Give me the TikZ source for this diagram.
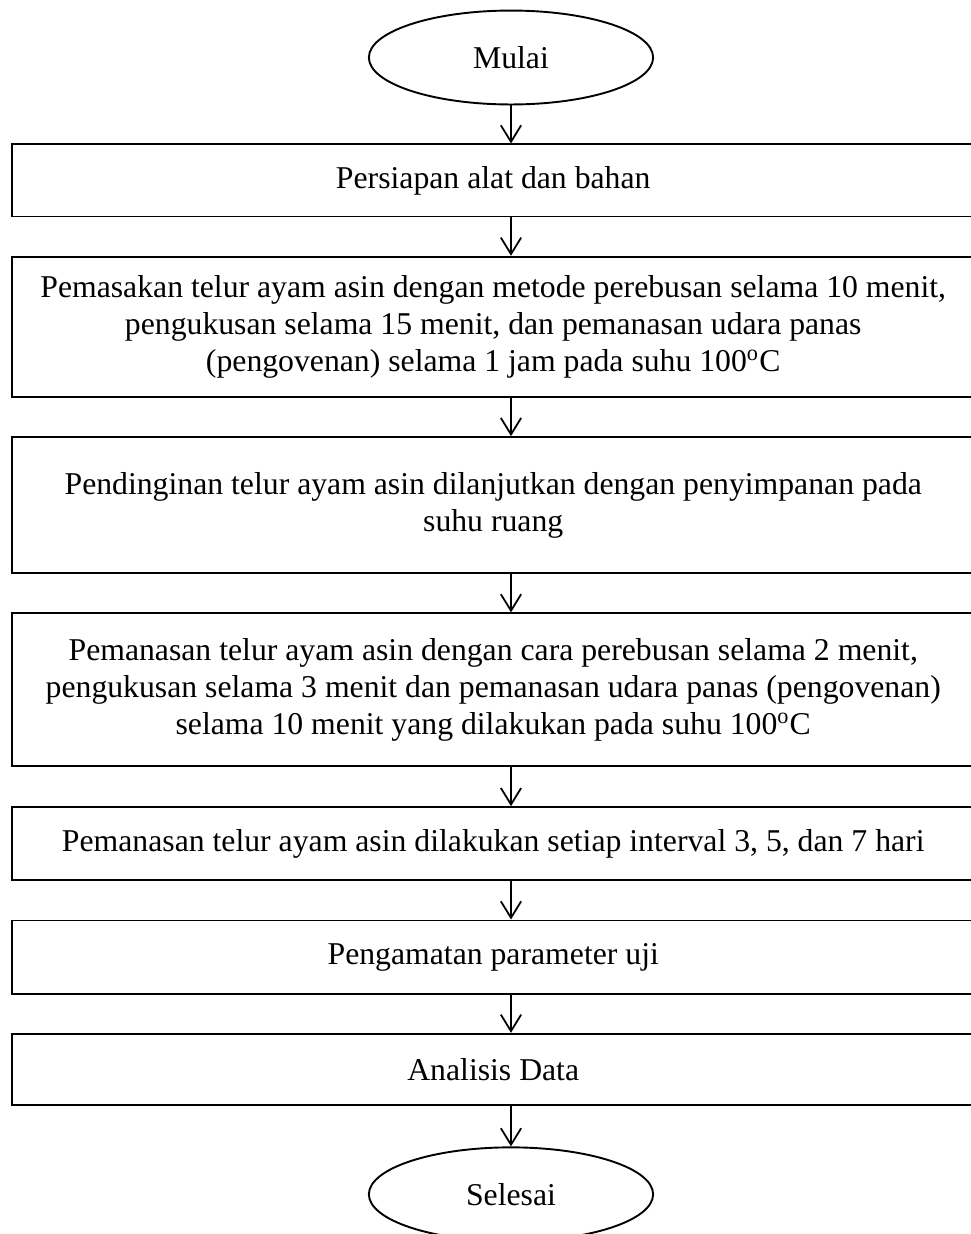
\documentclass[tikz,border=0pt]{standalone}
\usepackage{fontspec}
\setmainfont{Liberation Serif}
\usepackage{tikz}
\usetikzlibrary{shapes.geometric, arrows.meta, positioning}
\tikzset{
  terminal/.style={ellipse, draw=black, fill=white, minimum width=112pt,
    minimum height=37pt, font=\fontsize{12.5}{14.6}\selectfont, line width=0.75pt},
  process/.style={rectangle, draw=black, fill=white, minimum width=379.5pt,
    align=center, font=\fontsize{12.5}{14.6}\selectfont, line width=0.75pt,
    inner sep=0pt},
  arrow/.style={-{Straight Barb[length=6.5pt,width=8pt]}, line width=0.7pt, color=black}
}
\begin{document}
\begin{tikzpicture}[x=0.394pt, y=-0.394pt, node distance=15.1pt]
  \clip (0,0) rectangle (971,1234);
  \node[terminal] (mulai) at (511,57.5) {Mulai};
  \node[process, minimum height=28.4pt, below=15pt of mulai, xshift=-7pt] (persiapan) {Persiapan alat dan bahan};
  \node[process, minimum height=55.2pt, below=of persiapan] (pemasakan) {Pemasakan telur ayam asin dengan metode perebusan selama 10 menit,\\pengukusan selama 15 menit, dan pemanasan udara panas\\(pengovenan) selama 1 jam pada suhu 100\textsuperscript{o}C};
  \node[process, minimum height=53.6pt, below=of pemasakan] (pendinginan) {Pendinginan telur ayam asin dilanjutkan dengan penyimpanan pada\\suhu ruang};
  \node[process, minimum height=60.3pt, below=of pendinginan] (pemanasan) {Pemanasan telur ayam asin dengan cara perebusan selama 2 menit,\\pengukusan selama 3 menit dan pemanasan udara panas (pengovenan)\\selama 10 menit yang dilakukan pada suhu 100\textsuperscript{o}C};
  \node[process, minimum height=28.8pt, below=15.3pt of pemanasan] (interval) {Pemanasan telur ayam asin dilakukan setiap interval 3, 5, dan 7 hari};
  \node[process, minimum height=28.8pt, below=of interval] (pengamatan) {Pengamatan parameter uji};
  \node[process, minimum height=28pt, below=of pengamatan] (analisis) {Analisis Data};
  \coordinate (akhir) at (analisis.south -| mulai);
  \node[terminal, below=16pt of akhir] (selesai) {Selesai};
  \draw[arrow] (mulai) -- (mulai |- persiapan.north);
  \draw[arrow] (persiapan.south -| mulai) -- (pemasakan.north -| mulai);
  \draw[arrow] (pemasakan.south -| mulai) -- (pendinginan.north -| mulai);
  \draw[arrow] (pendinginan.south -| mulai) -- (pemanasan.north -| mulai);
  \draw[arrow] (pemanasan.south -| mulai) -- (interval.north -| mulai);
  \draw[arrow] (interval.south -| mulai) -- (pengamatan.north -| mulai);
  \draw[arrow] (pengamatan.south -| mulai) -- (analisis.north -| mulai);
  \draw[arrow] (akhir) -- (selesai);
\end{tikzpicture}
\end{document}
